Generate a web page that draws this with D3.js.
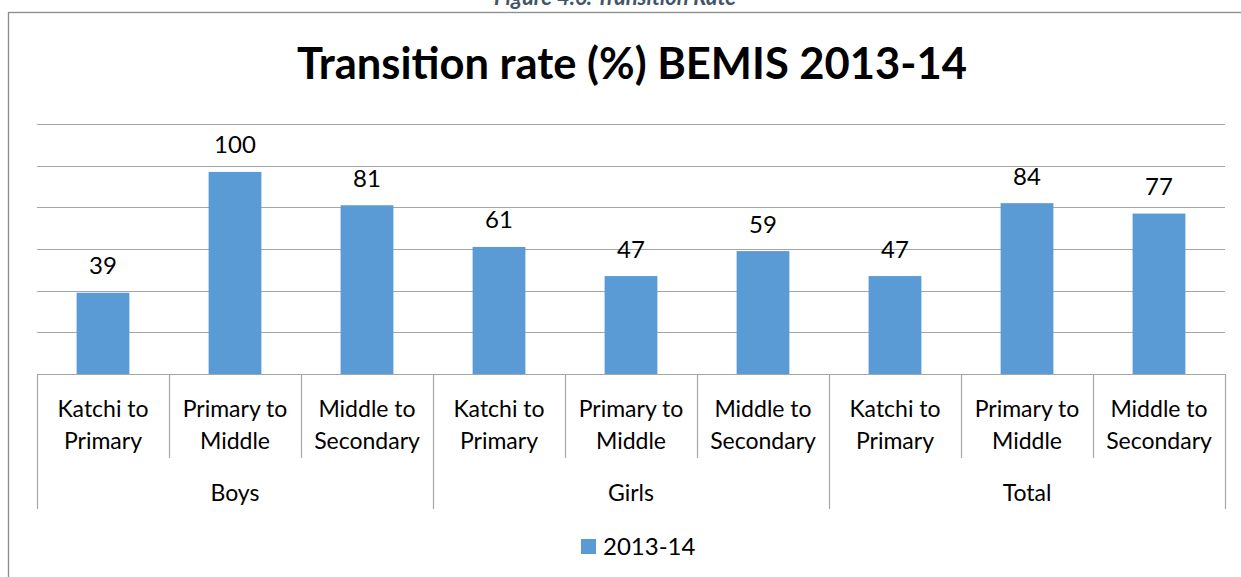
<!DOCTYPE html>
<html>
<head>
<meta charset="utf-8">
<script src="https://cdn.jsdelivr.net/npm/d3@7/dist/d3.min.js"></script>
<style>
  html, body { margin: 0; padding: 0; background: #fff; }
  svg { display: block; }
  text { font-family: Lato, "Liberation Sans", sans-serif; }
</style>
</head>
<body>
<svg id="chart" width="1241" height="577"></svg>
<script>
// ---- data ----
const groups = ["Boys", "Girls", "Total"];
const subCategories = [["Katchi to", "Primary"], ["Primary to", "Middle"], ["Middle to", "Secondary"]];
const values = [39, 97, 81, 61, 47, 59, 47, 82, 77];
const valueLabels = ["39", "100", "81", "61", "47", "59", "47", "84", "77"];
const yTicks = [0, 20, 40, 60, 80, 100, 120];
const seriesName = "2013-14";
const chartTitle = "Transition rate (%) BEMIS 2013-14";
const caption = "Figure 4.6: Transition Rate";

// ---- layout ----
const svg = d3.select("#chart");
const plot = { left: 37, right: 1225, top: 124, bottom: 374 };
const barColor = "#5B9BD5";
const lineColor = "#A6A6A6";

const keys = d3.range(values.length);
const x = d3.scaleBand().domain(keys).range([plot.left, plot.right]).padding(0);
const y = d3.scaleLinear().domain([0, 120]).range([plot.bottom, plot.top]);
const barW = x.bandwidth() * 0.4;

// caption (cut off at top, as in the reference)
svg.append("text")
  .attr("x", 615).attr("y", 5)
  .attr("text-anchor", "middle")
  .attr("font-size", 22).attr("font-weight", "bold").attr("font-style", "italic")
  .attr("fill", "#44546A")
  .text(caption);

// chart border
svg.append("rect")
  .attr("x", 8.5).attr("y", 12.5).attr("width", 1250).attr("height", 600)
  .attr("fill", "none").attr("stroke", "#8C8C8C").attr("stroke-width", 1.3);

// title
svg.append("text")
  .attr("x", 632).attr("y", 79)
  .attr("text-anchor", "middle")
  .attr("font-size", 43.5).attr("font-weight", "bold").attr("fill", "#000")
  .text(chartTitle);

// gridlines
svg.append("g").selectAll("line")
  .data(yTicks)
  .join("line")
  .attr("x1", plot.left).attr("x2", plot.right)
  .attr("y1", d => Math.round(y(d)) + 0.5).attr("y2", d => Math.round(y(d)) + 0.5)
  .attr("stroke", lineColor).attr("stroke-width", 1.2);

// bars
svg.append("g").selectAll("rect")
  .data(values)
  .join("rect")
  .attr("x", (d, i) => x(i) + (x.bandwidth() - barW) / 2)
  .attr("width", barW)
  .attr("y", d => y(d))
  .attr("height", d => y(0) - y(d))
  .attr("fill", barColor);

// data labels
svg.append("g").selectAll("text")
  .data(values)
  .join("text")
  .attr("x", (d, i) => x(i) + x.bandwidth() / 2)
  .attr("y", d => y(d) - 18.5)
  .attr("text-anchor", "middle")
  .attr("font-size", 24).attr("fill", "#000")
  .text((d, i) => valueLabels[i]);

// category axis separators
const sepG = svg.append("g");
d3.range(values.length + 1).forEach(i => {
  const xp = i < values.length ? x(i) : plot.right;
  const isGroupEdge = i % 3 === 0;
  sepG.append("line")
    .attr("x1", Math.round(xp) + 0.5).attr("x2", Math.round(xp) + 0.5)
    .attr("y1", plot.bottom).attr("y2", isGroupEdge ? 509 : 458)
    .attr("stroke", lineColor).attr("stroke-width", 1.2);
});

// sub-category labels
const catG = svg.append("g");
keys.forEach(i => {
  const lines = subCategories[i % 3];
  const t = catG.append("text")
    .attr("text-anchor", "middle")
    .attr("font-size", 23).attr("fill", "#000");
  lines.forEach((ln, j) => {
    t.append("tspan")
      .attr("x", x(i) + x.bandwidth() / 2)
      .attr("y", 417 + j * 32)
      .text(ln);
  });
});

// group labels
svg.append("g").selectAll("text")
  .data(groups)
  .join("text")
  .attr("x", (d, gi) => (x(gi * 3) + (x(gi * 3 + 2) + x.bandwidth())) / 2)
  .attr("y", 501)
  .attr("text-anchor", "middle")
  .attr("font-size", 23).attr("fill", "#000")
  .text(d => d);

// legend
const leg = svg.append("g");
leg.append("rect").attr("x", 581).attr("y", 539).attr("width", 15).attr("height", 15).attr("fill", barColor);
leg.append("text").attr("x", 603).attr("y", 555)
  .attr("font-size", 24).attr("fill", "#000").text(seriesName);
</script>
</body>
</html>
